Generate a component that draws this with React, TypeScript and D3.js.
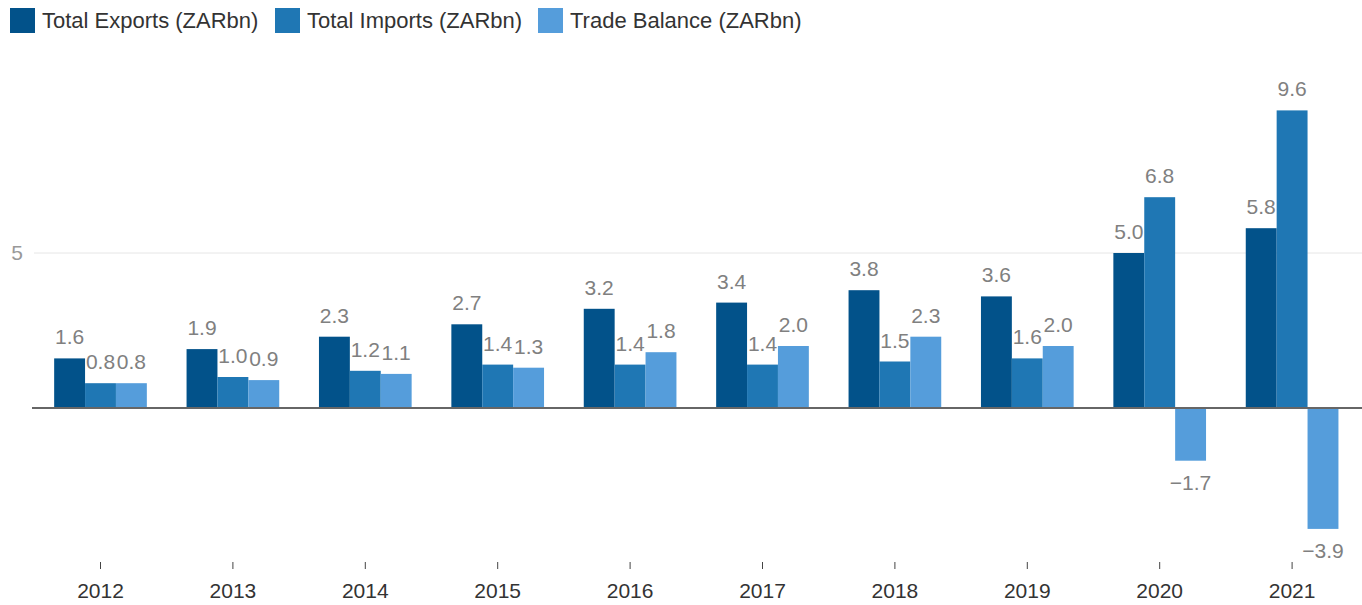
import { useEffect, useRef } from 'react';
import * as d3 from 'd3';

const years = ['2012', '2013', '2014', '2015', '2016', '2017', '2018', '2019', '2020', '2021'];
const exportsZar = [1.6, 1.9, 2.3, 2.7, 3.2, 3.4, 3.8, 3.6, 5.0, 5.8];
const importsZar = [0.8, 1.0, 1.2, 1.4, 1.4, 1.4, 1.5, 1.6, 6.8, 9.6];
const balanceZar = [0.8, 0.9, 1.1, 1.3, 1.8, 2.0, 2.3, 2.0, -1.7, -3.9];
const seriesNames = ['Total Exports (ZARbn)', 'Total Imports (ZARbn)', 'Trade Balance (ZARbn)'];
const seriesColors = ['#02528a', '#1f77b4', '#559ddb'];
const yTicks = [5];

const App = () => {
  const svgRef = useRef<SVGSVGElement>(null);

  useEffect(() => {
    if (!svgRef.current) return;
    const svg = d3.select(svgRef.current);
    svg.selectAll('*').remove();

    const width = 1362;
    const font = '"Liberation Sans", Arial, sans-serif';
    const series = [exportsZar, importsZar, balanceZar];

    const x = d3.scaleBand()
      .domain(years)
      .range([34.3, 1358.3])
      .paddingInner(0.3)
      .paddingOuter(0.15);

    const xSub = d3.scaleBand()
      .domain(seriesNames)
      .range([0, x.bandwidth()]);

    const y = d3.scaleLinear()
      .domain([0, 5])
      .range([408, 253]);

    // grid
    svg.append('g')
      .selectAll('line')
      .data(yTicks)
      .enter()
      .append('line')
        .attr('x1', 34)
        .attr('x2', width)
        .attr('y1', d => y(d))
        .attr('y2', d => y(d))
        .attr('stroke', '#e6e6e6')
        .attr('stroke-width', 1);

    svg.append('g')
      .selectAll('text')
      .data(yTicks)
      .enter()
      .append('text')
        .attr('x', 23)
        .attr('y', d => y(d) + 7)
        .attr('text-anchor', 'end')
        .style('font-family', font)
        .style('font-size', '21px')
        .attr('fill', '#999')
        .text(d => d);

    // bars
    const groups = svg.append('g')
      .selectAll('g')
      .data(years)
      .enter()
      .append('g')
        .attr('transform', d => `translate(${x(d)},0)`);

    groups.selectAll('rect')
      .data((_, i) => series.map((s, k) => ({ key: seriesNames[k], value: s[i], color: seriesColors[k] })))
      .enter()
      .append('rect')
        .attr('x', d => xSub(d.key)!)
        .attr('width', xSub.bandwidth())
        .attr('y', d => y(Math.max(0, d.value)))
        .attr('height', d => Math.abs(y(d.value) - y(0)))
        .attr('fill', d => d.color);

    groups.selectAll('text')
      .data((_, i) => series.map((s, k) => ({ key: seriesNames[k], value: s[i] })))
      .enter()
      .append('text')
        .attr('x', d => xSub(d.key)! + xSub.bandwidth() / 2)
        .attr('y', d => d.value >= 0 ? y(d.value) - 14 : y(d.value) + 29)
        .attr('text-anchor', 'middle')
        .style('font-family', font)
        .style('font-size', '21px')
        .attr('fill', '#808080')
        .text(d => d3.format('.1f')(d.value));

    // zero line
    svg.append('line')
      .attr('x1', 32)
      .attr('x2', width)
      .attr('y1', y(0))
      .attr('y2', y(0))
      .attr('stroke', '#666')
      .attr('stroke-width', 2);

    // x axis
    const axis = svg.append('g');
    axis.selectAll('line')
      .data(years)
      .enter()
      .append('line')
        .attr('x1', d => x(d)! + x.bandwidth() / 2)
        .attr('x2', d => x(d)! + x.bandwidth() / 2)
        .attr('y1', 562)
        .attr('y2', 569)
        .attr('stroke', '#444')
        .attr('stroke-width', 1);
    axis.selectAll('text')
      .data(years)
      .enter()
      .append('text')
        .attr('x', d => x(d)! + x.bandwidth() / 2)
        .attr('y', 598)
        .attr('text-anchor', 'middle')
        .style('font-family', font)
        .style('font-size', '21px')
        .attr('fill', '#333')
        .text(d => d);

    // legend
    const legendX = [10, 275, 538];
    const legend = svg.append('g')
      .selectAll('g')
      .data(seriesNames)
      .enter()
      .append('g')
        .attr('transform', (_, i) => `translate(${legendX[i]},8)`);
    legend.append('rect')
      .attr('width', 25)
      .attr('height', 25)
      .attr('fill', (_, i) => seriesColors[i]);
    legend.append('text')
      .attr('x', 32)
      .attr('y', 20)
      .style('font-family', font)
      .style('font-size', '22px')
      .attr('fill', '#333')
      .text(d => d);
  }, []);

  return (
    <svg
      ref={svgRef}
      width={1362}
      height={605}
      style={{ position: 'absolute', left: 0, top: 0, background: '#fff' }}
    />
  );
};

export default App;
